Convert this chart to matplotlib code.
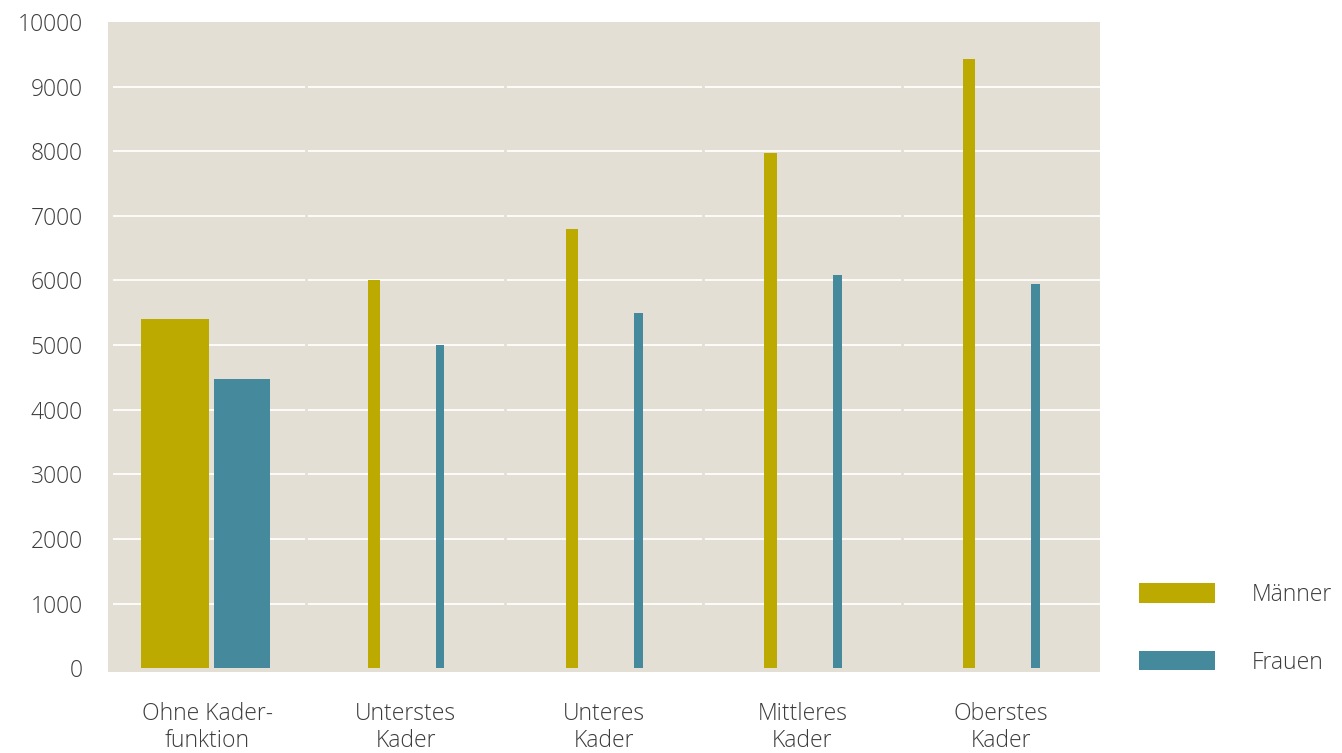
import numpy as np
import matplotlib.pyplot as plt
from matplotlib.patches import Patch

# data
categories = ['Ohne Kader-\nfunktion', 'Unterstes\nKader', 'Unteres\nKader',
              'Mittleres\nKader', 'Oberstes\nKader']
maenner = [5400, 6010, 6800, 7970, 9420]
frauen = [4475, 5000, 5495, 6080, 5945]
yticks = [0, 1000, 2000, 3000, 4000, 5000, 6000, 7000, 8000, 9000, 10000]

# bar widths per category (first group drawn wide, the rest thin)
w_m = [0.343, 0.06, 0.062, 0.064, 0.06]
w_f = [0.282, 0.042, 0.044, 0.045, 0.042]

c_m = '#BDAA00'
c_f = '#458A9C'
bg = '#E3DFD4'
txt = '#3C3C3C'

plt.rcParams['font.family'] = ['Open Sans', 'DejaVu Sans']
plt.rcParams['font.weight'] = 'light'

fig = plt.figure(figsize=(13.42, 7.53), dpi=100)
ax = fig.add_axes([108 / 1342, 1 - 672 / 753, 992 / 1342, 650 / 753])
ax.set_facecolor(bg)

x = np.arange(len(categories))
ax.set_xlim(-0.5, len(categories) - 0.5)
ax.set_ylim(-60, 10000)

# white grid lines, broken at category boundaries
ax.hlines(yticks[1:-1], -0.475, len(categories) - 0.5, color='white', lw=1.3, zorder=1)
for b in x[:-1] + 0.5:
    ax.axvline(b, color=bg, lw=2, zorder=1.5)

ax.bar(x - 0.16, maenner, width=w_m, color=c_m, zorder=2)
ax.bar(x + 0.175, frauen, width=w_f, color=c_f, zorder=2)

for s in ax.spines.values():
    s.set_visible(False)

ax.set_yticks(yticks)
ax.set_yticklabels([str(t) for t in yticks])
ax.set_xticks(x)
ax.set_xticklabels(categories, linespacing=1.15)
ax.tick_params(axis='y', length=0, pad=18, labelsize=16.5, labelcolor=txt)
ax.tick_params(axis='x', length=0, pad=21.5, labelsize=16.5, labelcolor=txt)

handles = [Patch(facecolor=c_m, label='Männer'), Patch(facecolor=c_f, label='Frauen')]
fig.legend(handles=handles, loc='upper left', bbox_to_anchor=(1139 / 1342, 1 - 583 / 753),
           frameon=False, fontsize=16.5, labelcolor=txt, borderpad=0, borderaxespad=0,
           handlelength=3.3, handleheight=0.92, handletextpad=1.6, labelspacing=1.9)

fig.savefig('out.png', dpi=100)
